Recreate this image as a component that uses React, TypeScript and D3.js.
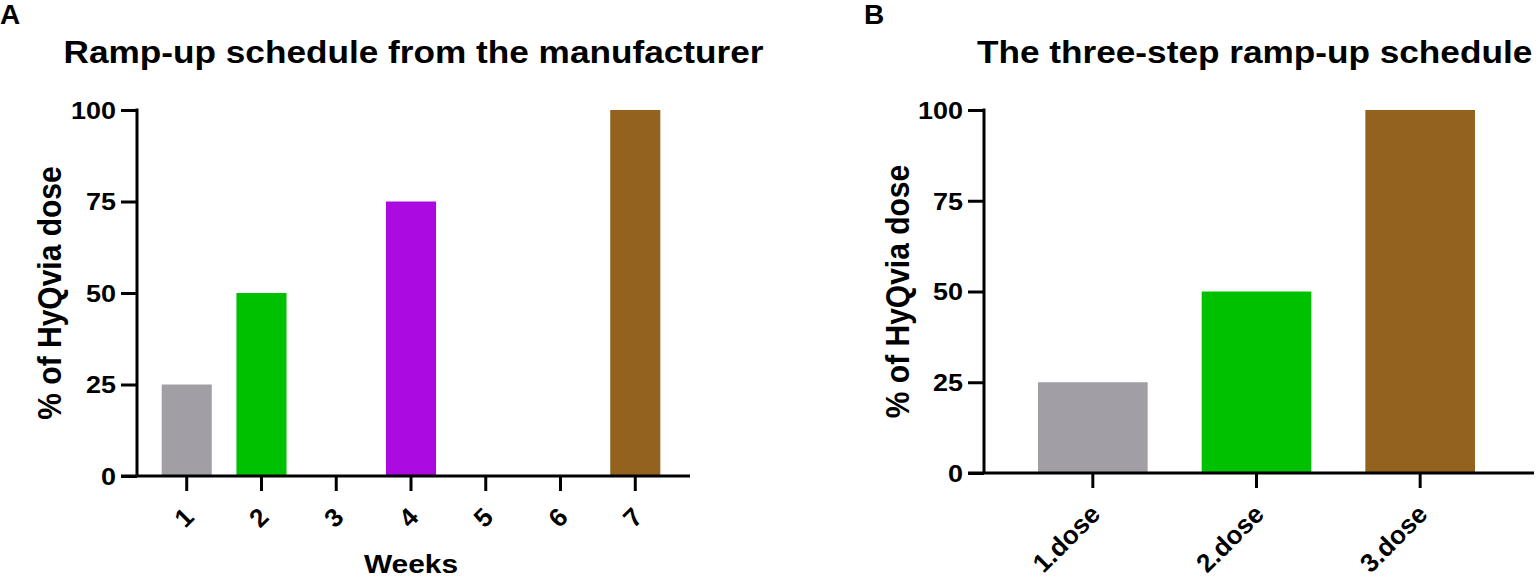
import React, { useRef, useEffect } from "react";
import * as d3 from "d3";

// panel A: manufacturer schedule (weeks 1-7)
const weeks = ["1", "2", "3", "4", "5", "6", "7"];
const weekDose = [25, 50, 0, 75, 0, 0, 100];
const weekColors = ["#a19fa5", "#00c100", "#000000", "#ab0ae0", "#000000", "#000000", "#93621f"];

// panel B: three-step schedule
const doses = ["1.dose", "2.dose", "3.dose"];
const stepDose = [25, 50, 100];
const stepColors = ["#a19fa5", "#00c100", "#93621f"];

const yTicks = [0, 25, 50, 75, 100];

const FONT = "'Liberation Sans', Arial, sans-serif";
// the figure's text is a little wider than plain Arial
const SX = 1.1;

const App = () => {
  const ref = useRef(null);

  useEffect(() => {
    const svg = d3.select(ref.current);
    svg.selectAll("*").remove();

    const bold = (sel, size) =>
      sel.attr("font-family", FONT).attr("font-weight", "bold").attr("font-size", size).attr("fill", "#000");

    const drawPanel = (opts) => {
      const { cats, vals, colors, x0, x1, y0, y1, title, titleX, titleAnchor, letter, letterX, xTitle, yLabelX } = opts;
      const g = svg.append("g");

      const x = d3.scaleBand().domain(cats).range([x0, x1]).paddingInner(0.33).paddingOuter(0.33);
      const y = d3.scaleLinear().domain([0, 100]).range([y0, y1]);

      // bars
      g.selectAll("rect")
        .data(vals)
        .join("rect")
        .attr("x", (d, i) => x(cats[i]))
        .attr("width", x.bandwidth())
        .attr("y", (d) => y(d))
        .attr("height", (d) => y(0) - y(d))
        .attr("fill", (d, i) => colors[i]);

      // y axis (labels drawn separately so they can be stretched)
      const yAxis = g.append("g").attr("transform", `translate(${x0},0)`)
        .call(d3.axisLeft(y).tickValues(yTicks).tickSize(16).tickFormat(() => ""));
      yAxis.select(".domain").attr("stroke-width", 3).attr("d", `M0,${y1 - 1.5}V${y0}`);
      yAxis.selectAll(".tick line").attr("stroke-width", 3);

      g.selectAll("text.ytick")
        .data(yTicks)
        .join("text")
        .attr("class", "ytick")
        .attr("transform", (d) => `translate(${x0 - 21},${y(d)}) scale(${SX},1)`)
        .attr("text-anchor", "end")
        .attr("dy", "0.36em")
        .text((d) => d)
        .call(bold, 24.5);

      // x axis
      const xAxis = g.append("g").attr("transform", `translate(0,${y0})`)
        .call(d3.axisBottom(x).tickSize(15).tickFormat(() => ""));
      xAxis.select(".domain").attr("stroke-width", 3).attr("d", `M${x0 - 16},0H${x1 + 5}`);
      xAxis.selectAll(".tick line").attr("stroke-width", 3);

      // rotated category labels
      g.selectAll("text.cat")
        .data(cats)
        .join("text")
        .attr("class", "cat")
        .attr("transform", (d) => `translate(${x(d) + x.bandwidth() / 2 - 4},${y0 + 30}) rotate(-45)`)
        .attr("text-anchor", "end")
        .attr("dy", "0.7em")
        .text((d) => d)
        .call(bold, 26);

      // y label
      g.append("text")
        .attr("transform", `translate(${yLabelX},${(y0 + y1) / 2}) rotate(-90) scale(1,${SX})`)
        .attr("text-anchor", "middle")
        .text("% of HyQvia dose")
        .call(bold, 30);

      // title
      g.append("text")
        .attr("transform", `translate(${titleX},63) scale(${SX},1)`)
        .attr("text-anchor", titleAnchor)
        .text(title)
        .call(bold, 32);

      g.append("text")
        .attr("transform", `translate(${letterX},24)`)
        .text(letter)
        .call(bold, 28);

      if (xTitle) {
        g.append("text")
          .attr("transform", `translate(${(x0 + x1) / 2 + 0},573) scale(1.15,1)`)
          .attr("text-anchor", "middle")
          .text(xTitle)
          .call(bold, 26);
      }
    };

    drawPanel({
      cats: weeks, vals: weekDose, colors: weekColors,
      x0: 137, x1: 685, y0: 476, y1: 110,
      title: "Ramp-up schedule from the manufacturer", titleX: 413.5, titleAnchor: "middle",
      letter: "A", letterX: 0, xTitle: "Weeks", yLabelX: 61,
    });

    drawPanel({
      cats: doses, vals: stepDose, colors: stepColors,
      x0: 984, x1: 1529, y0: 473, y1: 110,
      title: "The three-step ramp-up schedule", titleX: 977, titleAnchor: "start",
      letter: "B", letterX: 864, xTitle: null, yLabelX: 909,
    });
  }, []);

  return (
    <div style={{ position: "absolute", left: 0, top: 0 }}>
      <svg ref={ref} width={1536} height={578} style={{ display: "block", background: "#fff" }} />
    </div>
  );
};

export default App;
